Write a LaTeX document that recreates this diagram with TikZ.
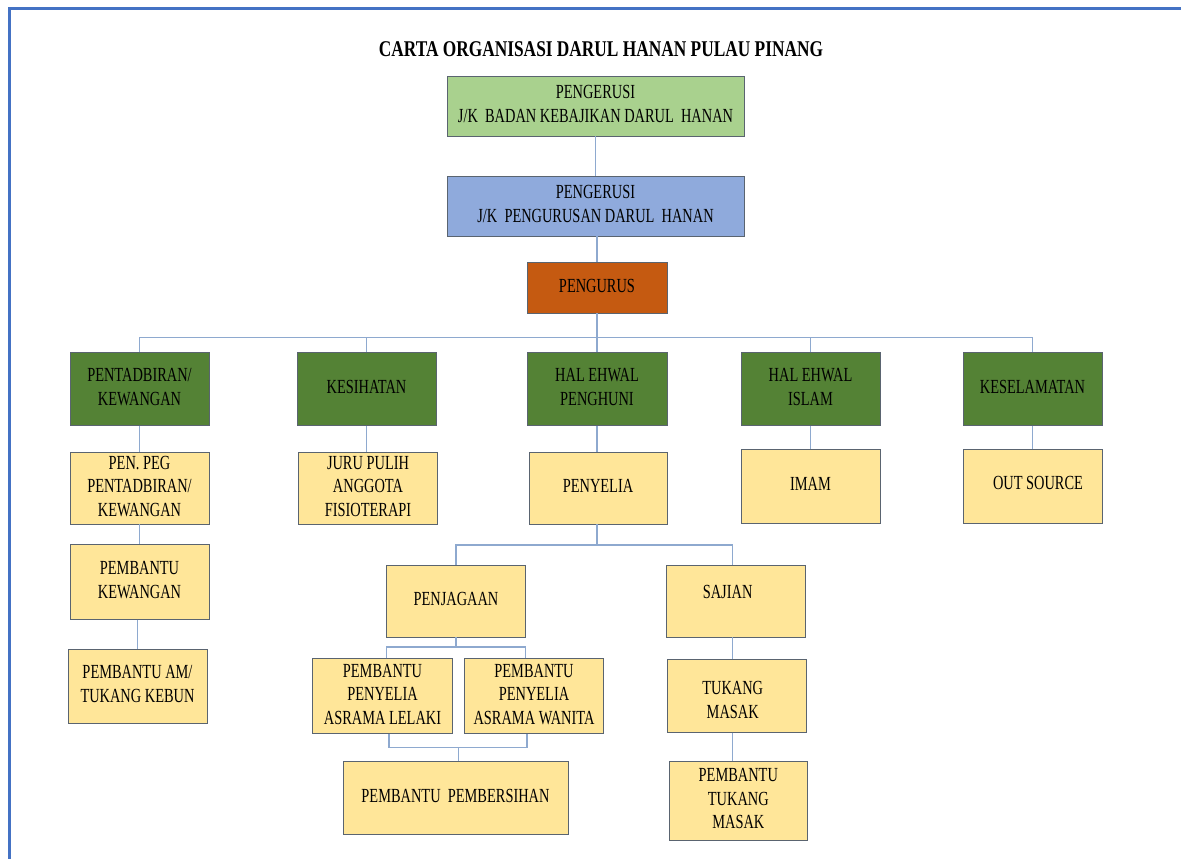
\documentclass[tikz,border=0pt]{standalone}
\usepackage{fontspec}
\usepackage{graphicx}
\setmainfont{Liberation Serif}
\usetikzlibrary{calc}
\definecolor{lgreen}{HTML}{A9D18E}
\definecolor{lblue}{HTML}{8FAADC}
\definecolor{orng}{HTML}{C55A11}
\definecolor{dgreen}{HTML}{548235}
\definecolor{yel}{HTML}{FFE699}
\definecolor{edgec}{HTML}{5A6470}
\definecolor{connc}{HTML}{8EA9CF}
\definecolor{framec}{HTML}{4472C4}
\newcommand\tx[1]{\scalebox{0.72}[1]{\fontsize{20}{23.5}\selectfont\begin{tabular}{@{}c@{}}#1\end{tabular}}}
\begin{document}
\begin{tikzpicture}[x=1pt,y=-1pt,
  box/.style={draw=edgec, line width=0.9pt, inner sep=0pt, minimum width=139pt, minimum height=73pt, text=black},
  ybox/.style={box, fill=yel},
  gbox/.style={box, fill=dgreen},
  txt/.style={inner sep=0pt, text=black},
  conn/.style={draw=connc, line width=1.1pt}]
\useasboundingbox (0,0) rectangle (1181,859);
\fill[white] (0,0) rectangle (1181,859);
\draw[framec, line width=2.2pt] (9.5,859) -- (9.5,8.5) -- (1181,8.5);
\node[txt] (title) at (601,49) {\scalebox{0.77}[1]{\fontsize{22.5}{26}\selectfont\bfseries CARTA ORGANISASI DARUL HANAN PULAU PINANG}};
% top chain
\node[box, fill=lgreen, minimum width=297pt, minimum height=60pt] (top1) at (595.5,106) {\tx{PENGERUSI\\J/K\ \ BADAN KEBAJIKAN DARUL\ \ HANAN}};
\node[box, fill=lblue, minimum width=297pt, minimum height=60pt] (top2) at (595.5,206) {\tx{PENGERUSI\\J/K\ \ PENGURUSAN DARUL\ \ HANAN}};
\node[box, fill=orng, minimum width=140pt, minimum height=51pt] (peng) at (597,287.5) {\tx{PENGURUS}};
% green row
\node[gbox] (pent) at (139.5,389) {\tx{PENTADBIRAN/\\KEWANGAN}};
\node[gbox] (kes) at (366.5,389) {\tx{KESIHATAN}};
\node[gbox, minimum width=140pt] (hep) at (597,389) {\tx{HAL EHWAL\\PENGHUNI}};
\node[gbox] (hei) at (810.5,389) {\tx{HAL EHWAL\\ISLAM}};
\node[gbox] (kesel) at (1032.5,389) {\tx{KESELAMATAN}};
% yellow row 1
\node[ybox, minimum height=72pt] (pp) at (139.5,488) {\tx{PEN. PEG\\PENTADBIRAN/\\KEWANGAN}};
\node[ybox, minimum height=72pt] (juru) at (368,488) {\tx{JURU PULIH\\ANGGOTA\\FISIOTERAPI}};
\node[ybox, minimum width=138pt, minimum height=72pt] (penyelia) at (598,488) {\tx{PENYELIA}};
\node[ybox, minimum height=74pt] (imam) at (810.5,486) {\tx{IMAM}};
\node[ybox, minimum height=74pt] (out) at (1032.5,486) {};
\node[txt] (outt) at (1038,484.5) {\tx{OUT SOURCE}};
% left column
\node[ybox, minimum height=74.5pt] (pk) at (139.5,582) {\tx{PEMBANTU\\KEWANGAN}};
\node[ybox, minimum height=74pt] (pam) at (137.5,686) {\tx{PEMBANTU AM/\\TUKANG KEBUN}};
% penyelia subtree
\node[ybox, minimum width=138.5pt, minimum height=72pt] (penj) at (456,601) {\tx{PENJAGAAN}};
\node[ybox, minimum width=138.5pt, minimum height=72pt] (saj) at (736,601) {};
\node[txt] (sajt) at (727.6,594) {\tx{SAJIAN}};
\node[ybox, minimum width=139.7pt, minimum height=74.5pt] (lel) at (382.5,696) {\tx{PEMBANTU\\PENYELIA\\ASRAMA LELAKI}};
\node[ybox, minimum width=139.7pt, minimum height=74.5pt] (wan) at (534,696) {\tx{PEMBANTU\\PENYELIA\\ASRAMA WANITA}};
\node[ybox, minimum width=225pt, minimum height=73.7pt] (pemb) at (455.5,798) {\tx{PEMBANTU\ \ PEMBERSIHAN}};
\node[ybox, minimum width=138.6pt, minimum height=72.5pt] (tm) at (736.7,696) {};
\node[txt] (tmt) at (732.7,702) {\tx{TUKANG\\MASAK}};
\node[ybox, minimum width=138.7pt, minimum height=79.5pt] (ptm) at (738.3,800.7) {\tx{PEMBANTU\\TUKANG\\MASAK}};
% connectors
\draw[conn] (top1.south) -- (top2.north);
\draw[conn] (top2.south -| peng.north) -- (peng.north);
\coordinate (bus) at (597,337.5);
\draw[conn] (peng.south) -- (bus);
\draw[conn] (pent.north) |- (bus) -| (kesel.north);
\draw[conn] (kes.north) -- (kes.north |- bus);
\draw[conn] (hep.north) -- (hep.north |- bus);
\draw[conn] (hei.north) -- (hei.north |- bus);
\draw[conn] (pent.south) -- (pp.north);
\draw[conn] (pp.south) -- (pk.north);
\draw[conn] (pk.south -| pam.north) -- (pam.north);
\draw[conn] (kes.south) -- (kes.south |- juru.north);
\draw[conn] (hep.south) -- (hep.south |- penyelia.north);
\draw[conn] (hei.south) -- (imam.north);
\draw[conn] (kesel.south) -- (out.north);
\coordinate (sb) at (597,545);
\draw[conn] (penyelia.south -| sb) -- (sb);
\draw[conn] (penj.north) |- (sb) -| ([xshift=-3.5pt]saj.north);
\coordinate (jb) at (456,647);
\draw[conn] (penj.south) -- (jb);
\draw[conn] (lel.north -| penj.west) |- (jb) -| (wan.north -| penj.east);
\coordinate (lb) at (458.5,747.5);
\draw[conn] ([xshift=6.5pt]lel.south) |- (lb) -| ([xshift=-7pt]wan.south);
\draw[conn] (lb) -- (pemb.north -| lb);
\draw[conn] ([xshift=-3.4pt]saj.south) -- ([xshift=-3.4pt]saj.south |- tm.north);
\draw[conn] ([xshift=-4pt]tm.south) -- ([xshift=-4pt]tm.south |- ptm.north);
\end{tikzpicture}
\end{document}
